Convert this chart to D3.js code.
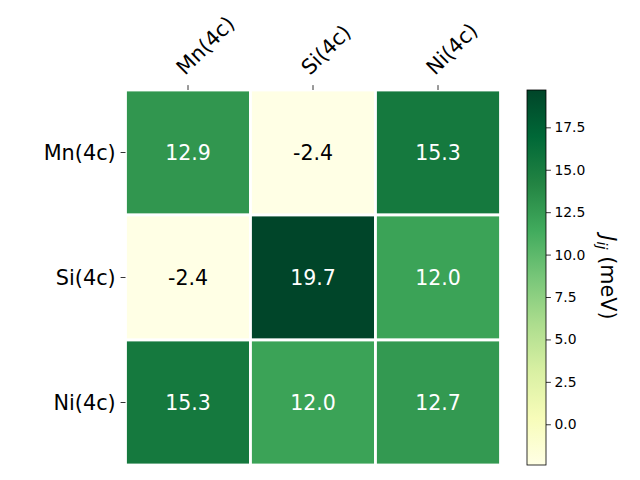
<!DOCTYPE html>
<html>
<head>
<meta charset="utf-8">
<script src="https://cdn.jsdelivr.net/npm/d3@7"></script>
<style>
  html, body { margin: 0; padding: 0; background: #fff; }
  svg { display: block; font-family: "DejaVu Sans", sans-serif; }
</style>
</head>
<body>
<svg id="chart" width="640" height="480"></svg>
<script>
// ---- data ----
const rowLabels = ["Mn(4c)", "Si(4c)", "Ni(4c)"];
const colLabels = ["Mn(4c)", "Si(4c)", "Ni(4c)"];
const rowMn = [12.9, -2.4, 15.3];
const rowSi = [-2.4, 19.7, 12.0];
const rowNi = [15.3, 12.0, 12.7];
const matrix = [rowMn, rowSi, rowNi];
const colorbarTicks = [0.0, 2.5, 5.0, 7.5, 10.0, 12.5, 15.0, 17.5];
const vmin = -2.4, vmax = 19.7;
const ylgn = ["#ffffe5","#f7fcb9","#d9f0a3","#addd8e","#78c679","#41ab5d","#238443","#006837","#004529"];

// ---- layout ----
const svg = d3.select("#chart");
const ax = { x: 125.5, y: 90, w: 375, h: 375 };
const cb = { x: 527, y: 90, w: 19, h: 375 };

const color = d3.scaleLinear()
  .domain(ylgn.map((_, i) => vmin + (vmax - vmin) * i / (ylgn.length - 1)))
  .range(ylgn)
  .interpolate(d3.interpolateRgb)
  .clamp(true);

const x = d3.scaleBand().domain(d3.range(colLabels.length)).range([ax.x, ax.x + ax.w]);
const y = d3.scaleBand().domain(d3.range(rowLabels.length)).range([ax.y, ax.y + ax.h]);

const cells = [];
matrix.forEach((row, i) => row.forEach((v, j) => cells.push({ i, j, v })));

const g = svg.append("g");
g.selectAll("rect.cell").data(cells).enter().append("rect")
  .attr("class", "cell")
  .attr("x", d => x(d.j))
  .attr("y", d => y(d.i))
  .attr("width", x.bandwidth())
  .attr("height", y.bandwidth())
  .attr("fill", d => color(d.v))
  .attr("stroke", "#fff")
  .attr("stroke-width", 2.8);

g.selectAll("text.val").data(cells).enter().append("text")
  .attr("class", "val")
  .attr("x", d => x(d.j) + x.bandwidth() / 2)
  .attr("y", d => y(d.i) + y.bandwidth() / 2)
  .attr("text-anchor", "middle")
  .attr("dominant-baseline", "central")
  .attr("font-size", "20.5px")
  .attr("fill", d => (d.v - vmin) / (vmax - vmin) > 0.5 ? "#fff" : "#000")
  .text(d => d.v.toFixed(1));

// top axis ticks + rotated labels
const topAxis = svg.append("g");
colLabels.forEach((lab, j) => {
  const cx = x(j) + x.bandwidth() / 2;
  topAxis.append("line")
    .attr("x1", cx).attr("x2", cx)
    .attr("y1", ax.y - 4.9).attr("y2", ax.y)
    .attr("stroke", "#000").attr("stroke-width", 0.8);
  topAxis.append("text")
    .attr("transform", `translate(${cx - 3},${ax.y - 14}) rotate(-45)`)
    .attr("text-anchor", "start")
    .attr("font-size", "20.8px")
    .attr("fill", "#000")
    .text(lab);
});

// left axis
const leftAxis = svg.append("g");
rowLabels.forEach((lab, i) => {
  const cy = y(i) + y.bandwidth() / 2;
  leftAxis.append("line")
    .attr("x1", ax.x - 4.9).attr("x2", ax.x)
    .attr("y1", cy).attr("y2", cy)
    .attr("stroke", "#000").attr("stroke-width", 0.8);
  leftAxis.append("text")
    .attr("x", ax.x - 9.8)
    .attr("y", cy)
    .attr("text-anchor", "end")
    .attr("dominant-baseline", "central")
    .attr("font-size", "20.8px")
    .attr("fill", "#000")
    .text(lab);
});

// colorbar
const defs = svg.append("defs");
const grad = defs.append("linearGradient")
  .attr("id", "cbgrad").attr("x1", "0").attr("y1", "1").attr("x2", "0").attr("y2", "0");
ylgn.forEach((c, i) => grad.append("stop")
  .attr("offset", (i / (ylgn.length - 1) * 100) + "%")
  .attr("stop-color", c));

svg.append("rect")
  .attr("x", cb.x).attr("y", cb.y).attr("width", cb.w).attr("height", cb.h)
  .attr("fill", "url(#cbgrad)")
  .attr("stroke", "#000").attr("stroke-width", 0.8);

const cbScale = d3.scaleLinear().domain([vmin, vmax]).range([cb.y + cb.h, cb.y]);
const cbAxis = d3.axisRight(cbScale)
  .tickValues(colorbarTicks)
  .tickFormat(d3.format(".1f"))
  .tickSize(4.9)
  .tickPadding(3.5);
const cbG = svg.append("g")
  .attr("transform", `translate(${cb.x + cb.w},0)`)
  .call(cbAxis);
cbG.select(".domain").remove();
cbG.selectAll(".tick line").attr("stroke", "#000").attr("stroke-width", 0.8);
cbG.selectAll(".tick text")
  .attr("font-size", "13.9px")
  .attr("font-family", "DejaVu Sans, sans-serif")
  .attr("fill", "#000");

// colorbar label
const lbl = svg.append("text")
  .attr("transform", `translate(601,${cb.y + cb.h / 2}) rotate(90)`)
  .attr("text-anchor", "middle")
  .attr("font-size", "20.8px")
  .attr("fill", "#000");
lbl.append("tspan").attr("font-style", "italic").text("J");
lbl.append("tspan").attr("font-style", "italic").attr("font-size", "14.5px").attr("dy", "4").text("ij");
lbl.append("tspan").attr("dy", "-4").text(" (meV)");
</script>
</body>
</html>
